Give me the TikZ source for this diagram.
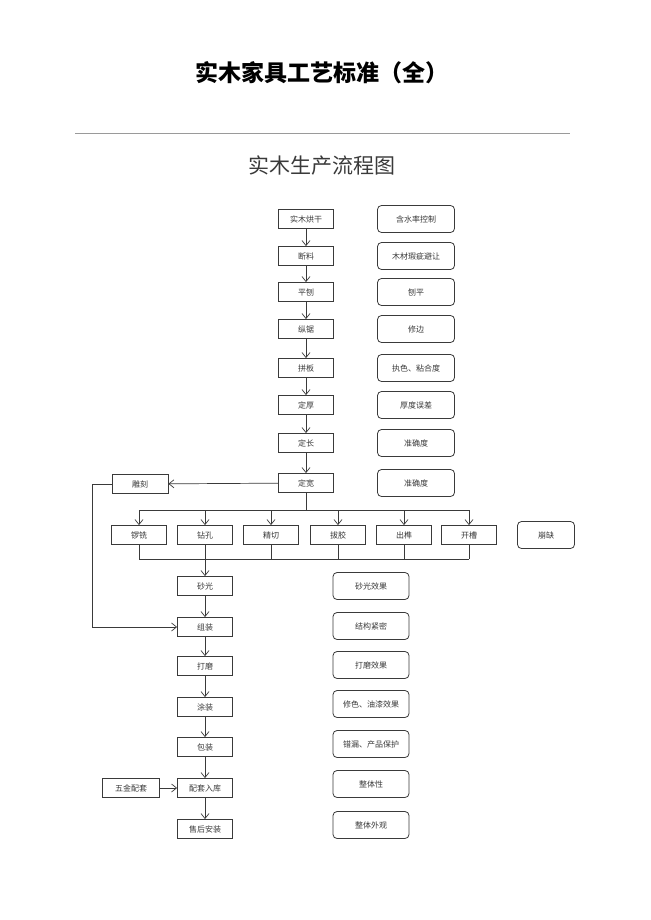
\documentclass[tikz,border=0pt]{standalone}
\usepackage{fontspec}
\newfontfamily\cjk{Noto Sans CJK SC}
\usetikzlibrary{positioning,arrows.meta}
\definecolor{ink}{HTML}{3A3A3A}
\definecolor{rulegray}{HTML}{9A9A9A}
\tikzset{
  proc/.style  = {rectangle, draw=ink, fill=white, line width=0.8pt, minimum width=55pt,
                  minimum height=19pt, inner sep=0pt, text=ink, font=\cjk\fontsize{8}{9}\selectfont},
  chk/.style   = {rectangle, rounded corners=4pt, draw=ink, fill=white, line width=0.8pt,
                  minimum width=77pt, minimum height=27pt, inner sep=0pt, text=ink,
                  font=\cjk\fontsize{8}{9}\selectfont},
  flow/.style  = {-{Straight Barb[length=5pt,width=8pt]}, draw=ink, line width=0.7pt},
  bus/.style   = {draw=ink, line width=0.7pt},
}

\begin{document}
\begin{tikzpicture}[x=1pt, y=-1pt]
  \useasboundingbox (0,0) rectangle (650,920);
  % heading
  \node[font=\cjk\bfseries\fontsize{23}{26}\selectfont] (title) at (322,73) {实木家具工艺标准（全）};
  \draw[rulegray, line width=0.8pt] (75,133) -- (570,133);
  \node[font=\cjk\fontsize{21}{24}\selectfont, text=ink] (sub) at (322,166) {实木生产流程图};

  % upper column and its checks
  \foreach \n/\t/\c/\y in {m1/实木烘干/含水率控制/219, m2/断料/木材瑕疵避让/256, m3/平刨/刨平/292,
                          m4/纵锯/修边/329, m5/拼板/执色、粘合度/368, m6/定厚/厚度误差/405,
                          m7/定长/准确度/443, m8/定宽/准确度/483} {
    \node[proc] (\n) at (306,\y) {\t};
    \node[chk] (\n c) at (416,\y) {\c};
  }
  \foreach \a/\b in {m1/m2, m2/m3, m3/m4, m4/m5, m5/m6, m6/m7, m7/m8}
    \draw[flow] (\a) -- (\b);

  \node[proc, minimum width=56pt] (carve) at (140,484) {雕刻};
  \draw[flow] (m8) -- (carve);

  % machining row
  \foreach \n/\t/\x in {r1/锣铣/139, r2/钻孔/205, r3/精切/271, r4/拔胶/338, r5/出榫/404, r6/开槽/469}
    \node[proc] (\n) at (\x,535) {\t};
  \node[chk, minimum width=57pt] (chip) at (546,535) {崩缺};

  \coordinate (jt) at (306,510);
  \coordinate (jb) at (205,559);
  \draw[bus] (m8) -- (jt);
  \draw[bus] (r1 |- jt) -- (r6 |- jt);
  \foreach \r in {r1,r2,r3,r4,r5,r6} {
    \draw[flow] (\r |- jt) -- (\r);
    \draw[bus] (\r) -- (\r |- jb);
  }
  \draw[bus] (r1 |- jb) -- (r6 |- jb);

  % lower column and its checks
  \foreach \n/\t/\c/\y/\yc in {b1/砂光/砂光效果/586/586, b2/组装/结构紧密/627/626, b3/打磨/打磨效果/666/665,
                             b4/涂装/修色、油漆效果/707/704, b5/包装/错漏、产品保护/747/744,
                             b6/配套入库/整体性/788/784, b7/售后安装/整体外观/829/825} {
    \node[proc] (\n) at (205,\y) {\t};
    \node[chk, minimum width=76pt] (\n c) at (371,\yc) {\c};
  }
  \draw[flow] (jb) -- (b1);
  \foreach \a/\b in {b1/b2, b2/b3, b3/b4, b4/b5, b5/b6, b6/b7}
    \draw[flow] (\a) -- (\b);

  \draw[flow] (carve.west) -- ++(-19,0) |- (b2);

  \node[proc, minimum width=57pt] (hw) at (131,788) {五金配套};
  \draw[flow] (hw) -- (b6);
\end{tikzpicture}
\end{document}
